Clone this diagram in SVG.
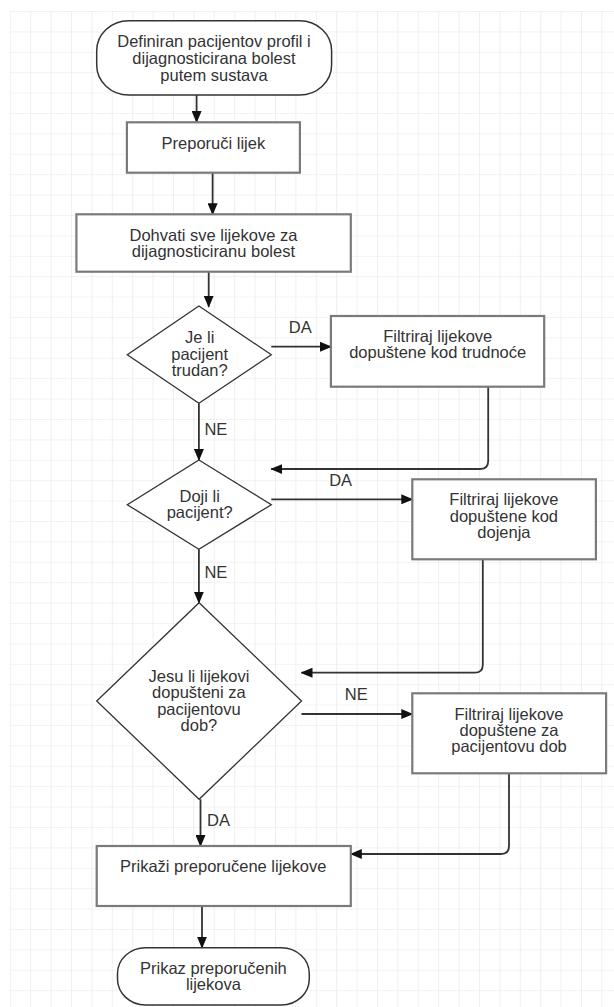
<svg xmlns="http://www.w3.org/2000/svg" width="614" height="1007" viewBox="0 0 614 1007">
<style>
.t{font-family:"Liberation Sans",Arial,sans-serif;font-size:16.5px;fill:#333;text-anchor:middle}
.box{fill:#fff;stroke:#7a7a7a;stroke-width:2.2}
.dia{fill:#fff;stroke:#333;stroke-width:1.3}
.term{fill:#fff;stroke:#333;stroke-width:1.5}
.c{fill:none;stroke:#333;stroke-width:1.8}
.ca{fill:none;stroke:#333;stroke-width:1.8;marker-end:url(#ah)}
</style>
<defs>
<pattern id="grid" patternUnits="userSpaceOnUse" x="9.8" y="11" width="20.4" height="20.4">
<path d="M0,0 H20.4 M0,0 V20.4" fill="none" stroke="#e6e6e6" stroke-width="1.2"/>
</pattern>
<marker id="ah" viewBox="0 0 12 10" refX="11" refY="5" markerWidth="12" markerHeight="10" markerUnits="userSpaceOnUse" orient="auto">
<path d="M0,0 L12,5 L0,10 z" fill="#111"/>
</marker>
</defs>
<rect x="0" y="0" width="614" height="1007" fill="#fff"/>
<rect x="9.8" y="11" width="604.2" height="996" fill="url(#grid)"/>

<g id="connectors">
<path class="ca" d="M196.6,95 V122"/>
<path class="ca" d="M212.6,172.7 V214.3"/>
<path class="ca" d="M208.7,271.7 V306.7"/>
<path class="ca" d="M271.3,346.7 H330.9"/>
<path class="ca" d="M488.2,386.7 V461 Q488.2,469 480.2,469 H271.3"/>
<path class="ca" d="M198.9,403.3 V460"/>
<path class="ca" d="M271.3,499.3 H412.3"/>
<path class="ca" d="M482.8,559.3 V664.7 Q482.8,672.7 474.8,672.7 H301.5"/>
<path class="ca" d="M198.9,549.3 V602.7"/>
<path class="ca" d="M301.5,714 H412.3"/>
<path class="ca" d="M509,773.3 V846 Q509,854 501,854 H350.8"/>
<path class="ca" d="M200.5,799.3 V846"/>
<path class="ca" d="M202,906 V947.7"/>
<text class="t" x="300.3" y="333.4">DA</text>
<text class="t" x="215.9" y="434.7">NE</text>
<text class="t" x="340.6" y="485.7">DA</text>
<text class="t" x="215.9" y="578">NE</text>
<text class="t" x="356.3" y="700">NE</text>
<text class="t" x="218.5" y="826.4">DA</text>
</g>

<g id="start">
<rect class="term" x="96.7" y="20.7" width="234.9" height="74.3" rx="32" ry="30"/>
<text class="t" x="214" y="47.4">Definiran pacijentov profil i</text>
<text class="t" x="214" y="64">dijagnosticirana bolest</text>
<text class="t" x="214" y="80.7">putem sustava</text>
</g>

<g id="preporuci">
<rect class="box" x="126.9" y="122.3" width="173" height="50.4"/>
<text class="t" x="213.4" y="149">Preporuči lijek</text>
</g>

<g id="dohvati">
<rect class="box" x="76.4" y="214.3" width="274.4" height="57.4"/>
<text class="t" x="213.4" y="240.7">Dohvati sve lijekove za</text>
<text class="t" x="213.4" y="257.4">dijagnosticiranu bolest</text>
</g>

<g id="trudan">
<polygon class="dia" points="198.9,306 271.3,354.7 198.9,403.3 127.3,354.7"/>
<text class="t" x="199.7" y="343">Je li</text>
<text class="t" x="199.7" y="359.7">pacijent</text>
<text class="t" x="199.7" y="376.4">trudan?</text>
</g>

<g id="filtriraj-trudnoca">
<rect class="box" x="330.9" y="316" width="213.3" height="70.7"/>
<text class="t" x="437.7" y="342.4">Filtriraj lijekove</text>
<text class="t" x="437.7" y="358.4">dopuštene kod trudnoće</text>
</g>

<g id="doji">
<polygon class="dia" points="198.9,460 271.3,504.7 198.9,549.3 127.3,504.7"/>
<text class="t" x="199.7" y="501.7">Doji li</text>
<text class="t" x="199.7" y="518">pacijent?</text>
</g>

<g id="filtriraj-dojenje">
<rect class="box" x="412.3" y="479.3" width="183.6" height="80"/>
<text class="t" x="503.9" y="505">Filtriraj lijekove</text>
<text class="t" x="503.9" y="521.7">dopuštene kod</text>
<text class="t" x="503.9" y="538">dojenja</text>
</g>

<g id="dob">
<polygon class="dia" points="199.1,602.7 301.5,701 199.1,799.3 96.7,701"/>
<text class="t" x="198.9" y="681.7">Jesu li lijekovi</text>
<text class="t" x="198.9" y="698">dopušteni za</text>
<text class="t" x="198.9" y="715">pacijentovu</text>
<text class="t" x="198.9" y="730.7">dob?</text>
</g>

<g id="filtriraj-dob">
<rect class="box" x="412.3" y="693.3" width="193.8" height="80"/>
<text class="t" x="509" y="719.7">Filtriraj lijekove</text>
<text class="t" x="509" y="736.4">dopuštene za</text>
<text class="t" x="509" y="752.4">pacijentovu dob</text>
</g>

<g id="prikazi">
<rect class="box" x="96.7" y="846" width="254.1" height="60"/>
<text class="t" x="223.2" y="872.4">Prikaži preporučene lijekove</text>
</g>

<g id="end">
<rect class="term" x="117.5" y="947.7" width="191.8" height="57.3" rx="28" ry="26"/>
<text class="t" x="213.4" y="974">Prikaz preporučenih</text>
<text class="t" x="213.4" y="990">lijekova</text>
</g>
</svg>
